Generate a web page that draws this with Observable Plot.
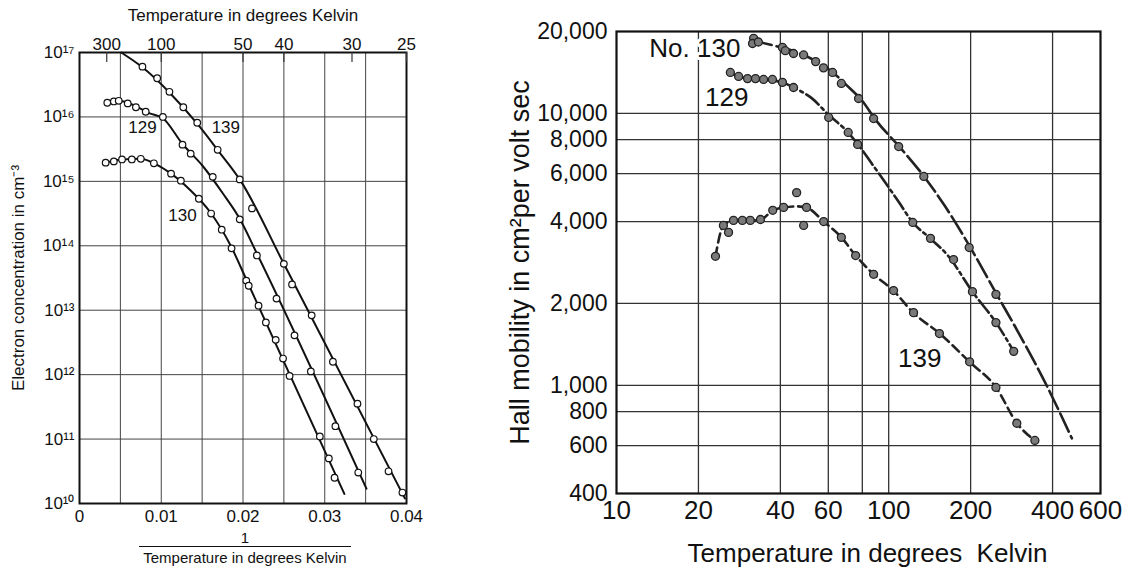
<!DOCTYPE html>
<html>
<head>
<meta charset="utf-8">
<script src="https://cdn.jsdelivr.net/npm/d3@7"></script>
<script src="https://cdn.jsdelivr.net/npm/@observablehq/plot@0.6"></script>
<style>
  body { margin: 0; background: #fff; }
  #wrap { position: relative; width: 1135px; height: 571px; overflow: hidden; background: #fff;
          font-family: "Liberation Sans", Arial, sans-serif; color: #111; }
  #left { position: absolute; left: 0; top: 0; }
  #right { position: absolute; left: 430px; top: 0; }
  .cap { position: absolute; text-align: center; font-size: 15px; line-height: 15px; }
</style>
</head>
<body>
<div id="wrap">
  <div id="left"></div>
  <div id="right"></div>
  <div class="cap" style="left:139px; top:530px; width:212px;">1</div>
  <div class="cap" style="left:139px; top:546px; width:212px; border-top:1.5px solid #111; padding-top:3px;">Temperature in degrees Kelvin</div>
</div>
<script>
// ---------------- Left panel: electron concentration vs 1/T ----------------
const topTemps = [300, 100, 50, 40, 30, 25];
const bottomTicks = [0, 0.01, 0.02, 0.03, 0.04];
const gridInvT = [0.005, 0.01, 0.015, 0.02, 0.025, 0.03, 0.035];
const decadeExps = [10, 11, 12, 13, 14, 15, 16, 17];

// measured points (1/T, log10 n)
const invT139 = [0.0077,0.0095,0.0110,0.0127,0.0144,0.0169,0.0196,0.0211,0.0250,0.0260,0.0284,0.0310,0.0340,0.0360,0.0378,0.0395];
const logN139 = [16.78,16.60,16.39,16.15,15.91,15.49,15.03,14.58,13.72,13.40,12.92,12.20,11.55,11.00,10.50,10.17];
const invT129 = [0.0034,0.0042,0.0048,0.0059,0.0069,0.0081,0.0102,0.0126,0.0136,0.0163,0.0196,0.0217,0.0241,0.0263,0.0283,0.0313,0.0341];
const logN129 = [16.22,16.24,16.25,16.21,16.15,16.08,16.00,15.57,15.43,15.07,14.41,13.85,13.18,12.61,12.05,11.20,10.48];
const invT130 = [0.0032,0.0042,0.0052,0.0064,0.0075,0.0091,0.0112,0.0124,0.0146,0.0161,0.0174,0.0186,0.0204,0.0207,0.0219,0.0228,0.0240,0.0249,0.0257,0.0294,0.0305,0.0312];
const logN130 = [15.29,15.31,15.34,15.34,15.35,15.28,15.12,15.01,14.73,14.50,14.25,13.96,13.46,13.38,13.07,12.81,12.54,12.25,11.98,11.04,10.70,10.40];

// fitted curves (1/T, log10 n)
const curveInvT139 = [0.0051,0.0077,0.0110,0.0145,0.0170,0.0196,0.0250,0.0398];
const curveLogN139 = [17.0,16.77,16.38,15.88,15.47,15.03,13.72,10.08];
const curveInvT129 = [0.0033,0.0048,0.0065,0.0085,0.0102,0.0126,0.0150,0.0175,0.0196,0.0217,0.0351];
const curveLogN129 = [16.22,16.25,16.19,16.06,15.98,15.58,15.25,14.82,14.42,13.88,10.23];
const curveInvT130 = [0.0032,0.0052,0.0075,0.0091,0.0112,0.0135,0.0160,0.0185,0.0205,0.0324];
const curveLogN130 = [15.29,15.34,15.35,15.28,15.12,14.87,14.52,14.00,13.45,10.15];

const leftLabels = ["129", "139", "130"];
const leftLabelInvT = [0.0077, 0.0179, 0.0126];
const leftLabelLogN = [15.84, 15.84, 14.47];

const toPts = (xs, ls) => xs.map((x, i) => ({x, n: Math.pow(10, ls[i])}));
const supDigits = "⁰¹²³⁴⁵⁶⁷⁸⁹";
const sup = s => String(s).split("").map(c => supDigits[+c]).join("");

const leftLines = [[curveInvT139, curveLogN139], [curveInvT129, curveLogN129], [curveInvT130, curveLogN130]];
const leftDots = [[invT139, logN139], [invT129, logN129], [invT130, logN130]];

const left = Plot.plot({
  width: 430, height: 571,
  marginLeft: 79, marginRight: 24, marginTop: 52, marginBottom: 68,
  style: {fontFamily: "Liberation Sans, Arial, sans-serif", fontSize: "17px", background: "transparent", color: "#111"},
  x: {domain: [0, 0.04], axis: null},
  y: {type: "log", domain: [1e10, 1e17], axis: null},
  marks: [
    Plot.ruleX(gridInvT, {stroke: "#444", strokeWidth: 1}),
    Plot.ruleY(decadeExps.map(e => Math.pow(10, e)), {stroke: "#444", strokeWidth: 1}),
    Plot.frame({stroke: "#111", strokeWidth: 2}),
    Plot.tickX(topTemps.map(t => 1 / t), {x: d => d, insetBottom: 441, stroke: "#333", strokeWidth: 1.2}),
    Plot.text(bottomTicks, {x: d => d, frameAnchor: "bottom", dy: 18, text: d => d === 0 ? "0" : d.toFixed(2), fontSize: 17}),
    Plot.text(topTemps, {x: d => 1 / d, frameAnchor: "top", dy: -15, text: d => String(d), fontSize: 17}),
    Plot.text(decadeExps, {y: d => Math.pow(10, d), frameAnchor: "left", dx: -5, textAnchor: "end",
      text: d => "10" + sup(d), fontSize: 17}),
    Plot.text(["Temperature in degrees Kelvin"], {text: d => d, frameAnchor: "top", dy: -44, fontSize: 17}),
    Plot.text(["Electron concentration in cm⁻³"], {text: d => d, frameAnchor: "left", textAnchor: "middle",
      dx: -61, rotate: -90, fontSize: 17}),
    ...leftLines.map(([xs, ls]) => Plot.line(toPts(xs, ls), {x: "x", y: "n", curve: "monotone-x", stroke: "#111", strokeWidth: 2})),
    ...leftDots.map(([xs, ls]) => Plot.dot(toPts(xs, ls), {x: "x", y: "n", r: 3.3, fill: "white", stroke: "#111", strokeWidth: 1.2})),
    Plot.text(leftLabels.map((t, i) => ({t, x: leftLabelInvT[i], n: Math.pow(10, leftLabelLogN[i])})),
      {x: "x", y: "n", text: "t", fontSize: 17, fill: "#111"})
  ]
});
document.getElementById("left").appendChild(left);

// ---------------- Right panel: Hall mobility vs T ----------------
const xTicksR = [10, 20, 40, 60, 100, 200, 400, 600];
const xGridR = [20, 40, 60, 80, 100, 200, 400];
const yTicksR = [400, 600, 800, 1000, 2000, 4000, 6000, 8000, 10000, 20000];
const yGridR = [600, 800, 1000, 2000, 4000, 6000, 8000, 10000];

// measured points
const T130 = [31.9, 31.6, 33.2, 40.7, 41.7, 44.7, 48.7, 53.9, 57.6, 62.2, 67.0, 77.5, 88.0, 108.8, 134.6, 197.6, 247.7];
const mu130 = [18870, 18070, 18300, 17480, 17000, 16600, 16400, 15500, 14700, 14140, 12880, 11340, 9570, 7550, 5860, 3210, 2160];
const T129 = [26.2, 28.1, 30.3, 32.4, 34.7, 37.4, 40.7, 44.7, 60.2, 71.0, 76.9, 122.6, 142.4, 173.1, 203.1, 247.7, 287.9];
const mu129 = [14140, 13670, 13420, 13420, 13330, 13330, 13000, 12450, 9660, 8510, 7690, 3970, 3470, 2900, 2210, 1700, 1333];
const T139 = [23.1, 24.7, 25.8, 26.9, 29.0, 31.0, 33.8, 37.5, 41.1, 45.9, 48.7, 49.9, 57.7, 67.0, 75.6, 88.0, 104.2, 123.4, 153.6, 198.3, 247.7, 295.6, 344.4];
const mu139 = [2980, 3870, 3650, 4040, 4040, 4040, 4070, 4400, 4510, 5110, 3870, 4510, 4000, 3500, 3000, 2560, 2230, 1850, 1550, 1220, 982, 725, 627];

// drawn curves
const lineT130 = [31.5, 40, 48, 55, 62, 70, 80, 90, 110, 135, 160, 200, 250, 300, 383, 471];
const lineMu130 = [18500, 17500, 16500, 15400, 14200, 12700, 11100, 9400, 7500, 5850, 4600, 3200, 2150, 1560, 985, 638];
const lineT129 = [26, 30, 35, 40.7, 45, 52, 60, 71, 77, 90, 108, 122.6, 142, 165, 203, 248, 288];
const lineMu129 = [14100, 13450, 13300, 13000, 12400, 11400, 9900, 8500, 7700, 6200, 4780, 3970, 3470, 3000, 2210, 1700, 1333];
const lineT139 = [23.1, 24.7, 27, 31, 34, 37.5, 41, 46, 50, 57.7, 67, 75.6, 88, 104, 123, 154, 198, 248, 296, 344];
const lineMu139 = [2980, 3870, 4040, 4040, 4070, 4400, 4500, 4550, 4500, 4000, 3500, 3000, 2560, 2230, 1850, 1550, 1220, 982, 725, 627];

const rightLabels = ["No. 130", "129", "139"];
const rightLabelT = [19.4, 25.4, 130];
const rightLabelMu = [17320, 11440, 1257];

const toTM = (ts, ms) => ts.map((T, i) => ({T, mu: ms[i]}));
const series = [
  {line: toTM(lineT130, lineMu130), pts: toTM(T130, mu130), dash: "20,5"},
  {line: toTM(lineT129, lineMu129), pts: toTM(T129, mu129), dash: "16,4,3,4"},
  {line: toTM(lineT139, lineMu139), pts: toTM(T139, mu139), dash: "9,5"}
];

const right = Plot.plot({
  width: 705, height: 571,
  marginLeft: 186, marginRight: 35, marginTop: 31, marginBottom: 78,
  style: {fontFamily: "Liberation Sans, Arial, sans-serif", fontSize: "26px", background: "transparent", color: "#111"},
  x: {type: "log", domain: [10, 600], axis: null},
  y: {type: "log", domain: [400, 20000], axis: null},
  marks: [
    Plot.ruleX(xGridR, {stroke: "#333", strokeWidth: 1.3}),
    Plot.ruleY(yGridR, {stroke: "#333", strokeWidth: 1.3}),
    Plot.frame({stroke: "#111", strokeWidth: 2.2}),
    Plot.text(xTicksR, {x: d => d, frameAnchor: "bottom", dy: 25, text: d => String(d), fontSize: 26}),
    Plot.text(yTicksR, {y: d => d, frameAnchor: "left", dx: -9, textAnchor: "end", text: d3.format(","), fontSize: 23}),
    Plot.text(["Temperature in degrees  Kelvin"], {text: d => d, frameAnchor: "bottom", dy: 68, dx: 9, fontSize: 26}),
    Plot.text(["Hall mobility in cm²per volt sec"], {text: d => d, frameAnchor: "left", textAnchor: "middle",
      dx: -96, rotate: -90, fontSize: 27}),
    ...series.map(s => Plot.line(s.line, {x: "T", y: "mu", curve: "monotone-x", stroke: "#222", strokeWidth: 2.6, strokeDasharray: s.dash})),
    ...series.map(s => Plot.dot(s.pts, {x: "T", y: "mu", r: 4, fill: "#7a7a7a", stroke: "#222", strokeWidth: 1.3})),
    Plot.text(rightLabels.map((t, i) => ({t, T: rightLabelT[i], mu: rightLabelMu[i]})),
      {x: "T", y: "mu", text: "t", fontSize: 26, fill: "#111", stroke: "white", strokeWidth: 6, paintOrder: "stroke"})
  ]
});
document.getElementById("right").appendChild(right);
</script>
</body>
</html>
